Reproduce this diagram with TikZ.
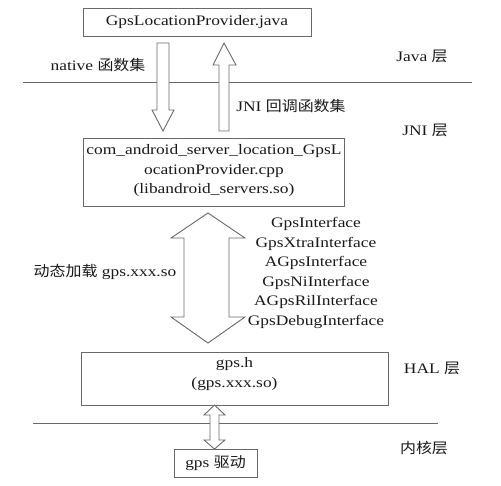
\documentclass[tikz,border=0pt]{standalone}
\usepackage{fontspec}
\setmainfont{Liberation Serif}[FakeStretch=1.2]
\newfontfamily\cjk{Noto Sans CJK SC}[FakeStretch=1.1]
\newcommand{\zh}[1]{{\cjk #1}}
\definecolor{edge}{RGB}{105,105,105}
\definecolor{ink}{RGB}{25,25,25}
\begin{document}
\begin{tikzpicture}[x=1pt,y=-1pt,
  box/.style={draw=edge,line width=0.9pt,fill=white,text=ink,inner sep=0pt,align=center},
  lbl/.style={text=ink,inner sep=0pt,align=center,font=\fontsize{14.5}{19.5}\selectfont},
  sep/.style={draw=edge,line width=0.9pt},
  blockarrow/.style={draw=edge,line width=0.9pt,fill=white,line join=miter}]
\useasboundingbox (0,0) rectangle (501,485);
% separator lines
\draw[sep] (23,82) coordinate (l1a) -- (472,82) coordinate (l1b);
\draw[sep] (33,423) coordinate (l2a) -- (438,423) coordinate (l2b);
% boxes
\node[box,minimum width=228pt,minimum height=28pt] (java) at (197,22) {};
\node[lbl] (javat) at (java.center) {GpsLocationProvider.java};
\node[box,minimum width=261pt,minimum height=68pt] (jni) at (213.5,172) {};
\node[lbl] (jnit) at (214,171) {com\_android\_server\_location\_GpsL\\ocationProvider.cpp\\(libandroid\_servers.so)};
\node[box,minimum width=307pt,minimum height=53pt] (hal) at (234.5,378.5) {};
\node[lbl] (halt) at (234.5,374) {gps.h\\(gps.xxx.so)};
\node[box,minimum width=83pt,minimum height=28pt] (drv) at (215.5,463) {};
\node[lbl] (drvt) at (drv.center) {gps \zh{驱动}};
% block arrows
\draw[blockarrow] (157,43) -- (169,43) -- (169,110) -- (174,110) -- (163,131) -- (152,110) -- (157,110) -- cycle;
\draw[blockarrow] (224,43) -- (236,65) -- (229,65) -- (229,131) -- (219,131) -- (219,65) -- (213,65) -- cycle;
\draw[blockarrow] (208,213) -- (245,238) -- (229,238) -- (229,317) -- (245,317) -- (208,343) -- (171,317) -- (184,317) -- (184,238) -- (171,238) -- cycle;
\draw[blockarrow] (214.5,405) -- (225,415) -- (219,415) -- (219,440) -- (225,440) -- (214.5,449) -- (204,440) -- (210,440) -- (210,415) -- (204,415) -- cycle;
% labels
\node[lbl] (nat) at (98,65) {native \zh{函数集}};
\node[lbl] (cb) at (291,106) {JNI \zh{回调函数集}};
\node[lbl] (dyn) at (105,272) {\zh{动态加载} gps.xxx.so};
\node[lbl] (ifs) at (316,273) {GpsInterface\\GpsXtraInterface\\AGpsInterface\\GpsNiInterface\\AGpsRilInterface\\GpsDebugInterface};
\node[lbl] (ljava) at (422,56) {Java \zh{层}};
\node[lbl] (ljni) at (425,130) {JNI \zh{层}};
\node[lbl] (lhal) at (432,368) {HAL \zh{层}};
\node[lbl] (lker) at (424,448) {\zh{内核层}};
\end{tikzpicture}
\end{document}
